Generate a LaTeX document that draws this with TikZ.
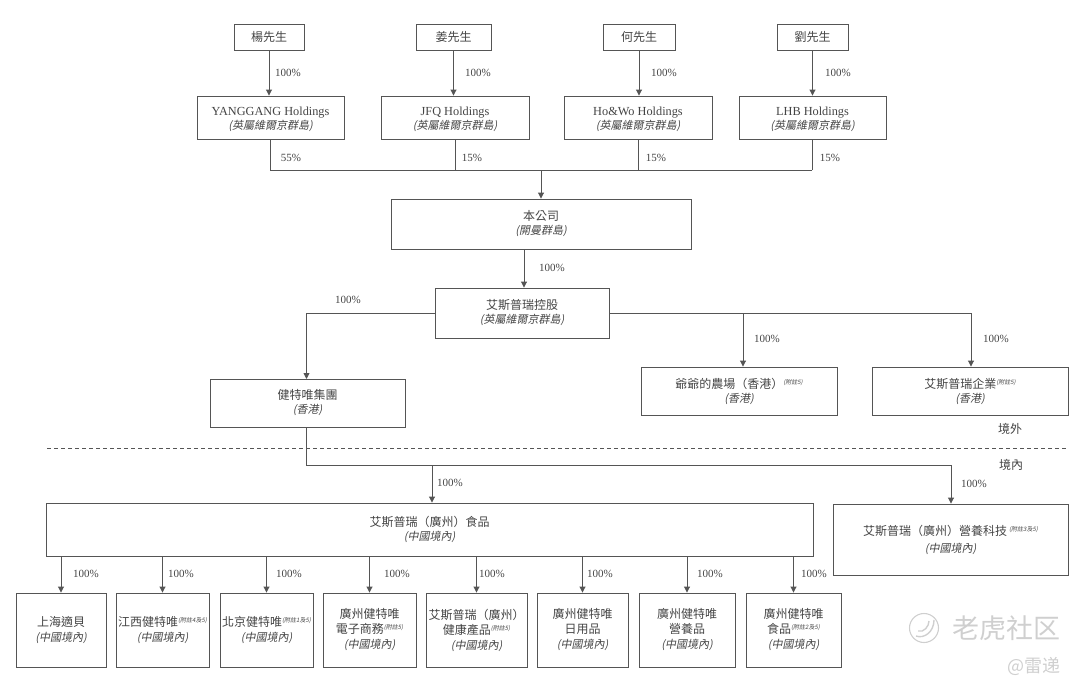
\documentclass[tikz,border=0pt]{standalone}
\usepackage{fontspec}
\setmainfont{Liberation Serif}
\newfontfamily\cjkup{Noto Sans CJK TC}
\newfontfamily\cjkit[FakeSlant=0.2]{Noto Sans CJK TC}
\newfontfamily\cjksc{Noto Sans CJK SC}
\newcommand{\zh}[1]{{\cjkup\fontsize{12}{14}\selectfont #1}}
\newcommand{\zi}[1]{{\cjkit\fontsize{11}{14}\selectfont #1}}
\newcommand{\nt}[1]{\raisebox{4pt}{\cjkit\fontsize{6}{6}\selectfont (#1)}}
\newcommand{\up}{\rule{0pt}{13pt}}
\definecolor{ink}{HTML}{444444}
\definecolor{ln}{HTML}{555555}
\definecolor{wm}{HTML}{CFCFCF}
\usetikzlibrary{arrows.meta,calc}
\tikzset{
  bx/.style={draw=ln,line width=0.9pt,inner sep=0pt,align=center,text=ink,font=\fontsize{12.3}{14}\selectfont},
  wire/.style={draw=ln,line width=0.9pt},
  arr/.style={wire,-{Triangle[length=6pt,width=6pt]}},
  pct/.style={text=ink,inner sep=0pt,font=\fontsize{11}{13}\selectfont},
  zone/.style={text=ink,inner sep=0pt},
  mark wm/.style={text=wm,inner sep=0pt}
}
\newcommand{\pbox}[6]{\node[bx,minimum width={(#4)-(#2)},minimum height={(#5)-(#3)}] (#1) at ({((#2)+(#4))/2},{((#3)+(#5))/2}) {#6};}
\begin{document}
\begin{tikzpicture}[x=1pt,y=-1pt]
\useasboundingbox (0,0) rectangle (1080,691);
% owners
\pbox{p1}{234}{24}{304}{50}{\zh{楊先生}}
\pbox{p2}{416}{24}{491}{50}{\zh{姜先生}}
\pbox{p3}{603}{24}{675}{50}{\zh{何先生}}
\pbox{p4}{777}{24}{848}{50}{\zh{劉先生}}
% holdings
\pbox{h1}{197}{96}{344}{139}{\up YANGGANG Holdings\\\zi{(英屬維爾京群島)}}
\pbox{h2}{381}{96}{529}{139}{\up JFQ Holdings\\\zi{(英屬維爾京群島)}}
\pbox{h3}{564}{96}{712}{139}{\up Ho\&Wo Holdings\\\zi{(英屬維爾京群島)}}
\pbox{h4}{739}{96}{886}{139}{\up LHB Holdings\\\zi{(英屬維爾京群島)}}
% company
\pbox{co}{391}{199}{691}{249}{\zh{本公司}\\\zi{(開曼群島)}}
\pbox{hold}{435}{288}{609}{338}{\zh{艾斯普瑞控股}\\\zi{(英屬維爾京群島)}}
\pbox{jtw}{210}{379}{405}{427}{\zh{健特唯集團}\\\zi{(香港)}}
\pbox{farm}{641}{367}{837}{415}{\zh{爺爺的農場（香港）}\nt{附註5}\\\zi{(香港)}}
\pbox{ent}{872}{367}{1068}{415}{\zh{艾斯普瑞企業}\nt{附註5}\\\zi{(香港)}}
\pbox{food}{46}{503}{813}{556}{\zh{艾斯普瑞（廣州）食品}\\\zi{(中國境內)}}
\pbox{nutri}{833}{504}{1068}{575}{\zh{艾斯普瑞（廣州）營養科技}\,\nt{附註3及5}\\[3pt]\zi{(中國境內)}}
% bottom row
\pbox{b1}{16}{593}{106}{667}{\zh{上海適貝}\\[1pt]\zi{(中國境內)}}
\pbox{b2}{116}{593}{209}{667}{\zh{江西健特唯}\nt{附註4及5}\\[1pt]\zi{(中國境內)}}
\pbox{b3}{220}{593}{313}{667}{\zh{北京健特唯}\nt{附註1及5}\\[1pt]\zi{(中國境內)}}
\pbox{b4}{323}{593}{416}{667}{\zh{廣州健特唯}\\[1pt]\zh{電子商務}\nt{附註5}\\[1pt]\zi{(中國境內)}}
\pbox{b5}{426}{593}{527}{667}{\zh{艾斯普瑞（廣州）}\\[1pt]\zh{健康產品}\nt{附註5}\\[1pt]\zi{(中國境內)}}
\pbox{b6}{537}{593}{628}{667}{\zh{廣州健特唯}\\[1pt]\zh{日用品}\\[1pt]\zi{(中國境內)}}
\pbox{b7}{639}{593}{735}{667}{\zh{廣州健特唯}\\[1pt]\zh{營養品}\\[1pt]\zi{(中國境內)}}
\pbox{b8}{746}{593}{841}{667}{\zh{廣州健特唯}\\[1pt]\zh{食品}\nt{附註2及5}\\[1pt]\zi{(中國境內)}}
% owner arrows
\foreach \a/\b in {p1/h1,p2/h2,p3/h3,p4/h4}{\draw[arr] (\a.south) -- (\a.south |- \b.north);}
% holdings bus
\coordinate (busL) at (270,170);
\coordinate (busR) at (812,170);
\coordinate (busC) at (541,170);
\draw[wire] (busL) -- (busR);
\draw[wire] (busL) -- (busL |- h1.south);
\draw[wire] (h2.south) -- (h2.south |- busL);
\draw[wire] (h3.south) -- (h3.south |- busL);
\draw[wire] (busR) -- (busR |- h4.south);
\draw[arr] (busC) -- (busC |- co.north);
% company to holdings
\coordinate (coh) at (524,249);
\draw[arr] (coh) -- (coh |- hold.north);
% overseas branch
\coordinate (jn) at (306.5,379);
\draw[arr] (hold.west) -- (jn |- hold.west) -- (jn);
\coordinate (fr) at (743,313);
\coordinate (er) at (971,313);
\draw[wire] (hold.east) -- (er);
\draw[arr] (fr) -- (fr |- farm.north);
\draw[arr] (er) -- (er |- ent.north);
% border
\coordinate (bdL) at (47,448);
\coordinate (bdR) at (1068,448);
\draw[draw=ln,line width=0.8pt,dash pattern=on 4pt off 3pt] (bdL) -- (bdR);
\node[zone] (out) at (1010,429) {\zh{境外}};
\node[zone] (in) at (1011,465) {\zh{境內}};
% domestic branch
\coordinate (dn) at (306.5,465);
\coordinate (dfood) at (432,465);
\coordinate (dnut) at (951,465);
\draw[wire] (jtw.south -| dn) -- (dn) -- (dnut);
\draw[arr] (dfood) -- (dfood |- food.north);
\draw[arr] (dnut) -- (dnut |- nutri.north);
% bottom arrows
\foreach \b in {b1,b2,b3,b4,b5,b6,b7,b8}{\draw[arr] (food.south -| \b.north) -- (\b.north);}
% labels
\node[pct] (l1) at (288,73) {100\%};
\node[pct] (l2) at (478,73) {100\%};
\node[pct] (l3) at (664,73) {100\%};
\node[pct] (l4) at (838,73) {100\%};
\node[pct] (l5) at (291,158) {55\%};
\node[pct] (l6) at (472,158) {15\%};
\node[pct] (l7) at (656,158) {15\%};
\node[pct] (l8) at (830,158) {15\%};
\node[pct] (l9) at (552,268) {100\%};
\node[pct] (l10) at (348,300) {100\%};
\node[pct] (l11) at (767,339) {100\%};
\node[pct] (l12) at (996,339) {100\%};
\node[pct] (l13) at (450,483) {100\%};
\node[pct] (l14) at (974,484) {100\%};
\node[pct] (s1) at (86,574) {100\%};
\node[pct] (s2) at (181,574) {100\%};
\node[pct] (s3) at (289,574) {100\%};
\node[pct] (s4) at (397,574) {100\%};
\node[pct] (s5) at (492,574) {100\%};
\node[pct] (s6) at (600,574) {100\%};
\node[pct] (s7) at (710,574) {100\%};
\node[pct] (s8) at (814,574) {100\%};
% watermark
\draw[wm,line width=1.1pt] (924,628) circle (14.5);
\draw[wm,line width=1.4pt] (916,636) .. controls (924,639) and (934,632) .. (934,620);
\draw[wm,line width=1.4pt] (918,631) .. controls (924,633) and (929,626) .. (929,621);
\node[mark wm] (wm1) at (1006,628) {\cjksc\fontsize{27}{28}\selectfont 老虎社区};
\node[mark wm,anchor=east] (wm2) at (1061,666) {\cjksc\fontsize{18}{20}\selectfont @雷递};
\end{tikzpicture}
\end{document}
